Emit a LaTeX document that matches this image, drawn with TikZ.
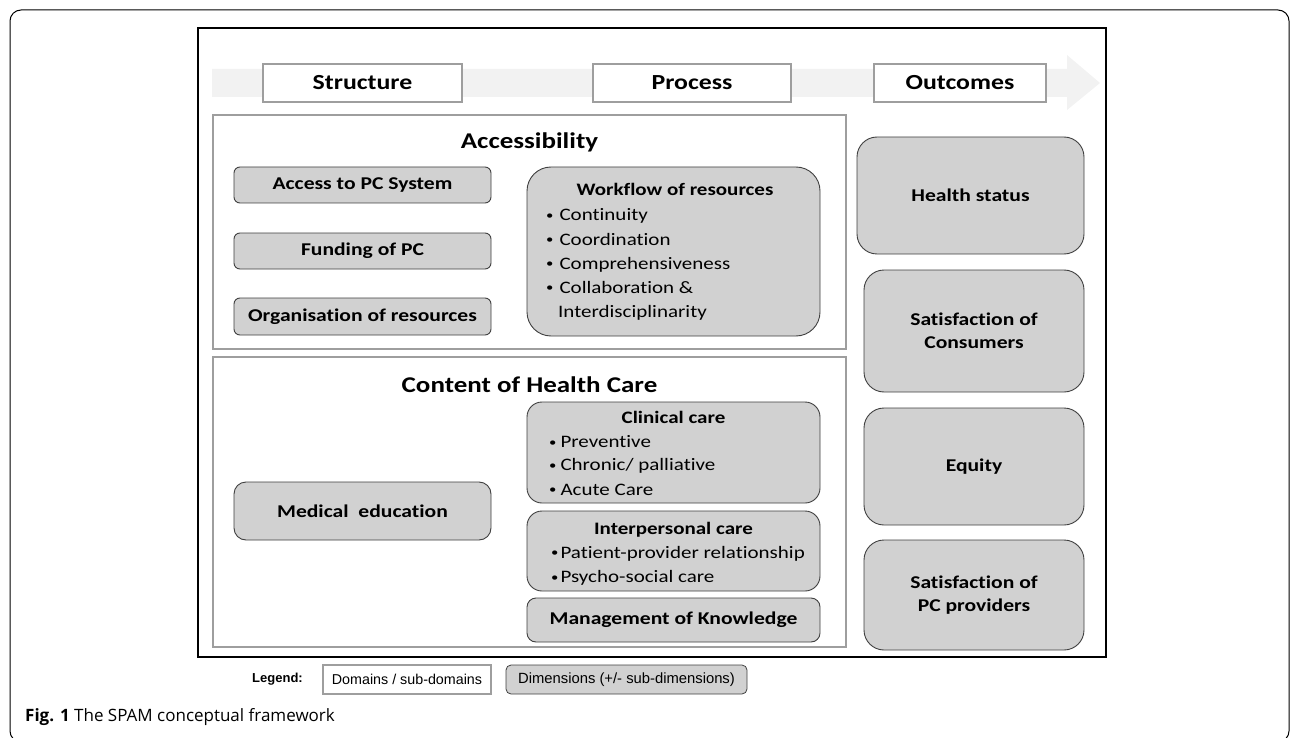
\documentclass[tikz,border=0pt]{standalone}
\usepackage{fontspec}
\usepackage{graphicx}
\setmainfont{Carlito}[FakeStretch=1.2, Ligatures=CommonOff]
\newfontfamily\legfont{Liberation Sans}
\newfontfamily\capfont{Open Sans}
\newcommand{\bu}{\raisebox{0.15ex}{\scalebox{0.7}{\textbullet}}}
\definecolor{dimfill}{gray}{0.82}
\definecolor{domline}{gray}{0.62}
\definecolor{arrowfill}{gray}{0.95}
\definecolor{dimline}{gray}{0.25}
\tikzset{
  dimbox/.style={draw=dimline, fill=dimfill, line width=0.9pt, rounded corners=#1, inner sep=0pt, align=center, font=\bfseries\fontsize{18}{23}\selectfont},
  dombox/.style={draw=domline, fill=white, line width=2pt, inner sep=0pt},
  hdrbox/.style={draw=domline, fill=white, line width=2pt, inner sep=0pt, font=\bfseries\fontsize{21.5}{24}\selectfont},
  sectitle/.style={font=\bfseries\fontsize{22.5}{26}\selectfont, inner sep=0pt},
  bul/.style={anchor=base west, inner sep=0pt, font=\fontsize{17.5}{22}\selectfont},
  subtitle/.style={inner sep=0pt, anchor=base, font=\bfseries\fontsize{17.5}{22}\selectfont},
}
\begin{document}
\begin{tikzpicture}[x=1pt,y=-1pt]
\useasboundingbox (0,0) rectangle (1290,738);
% outer caption frame
\draw[line width=1pt, rounded corners=11pt] (10,10) rectangle (1289,742);
% inner frame
\node[draw=black, line width=2.6pt, inner sep=0pt, minimum width=908pt, minimum height=629pt] (frame) at (652,342.5) {};
% arrow band
\fill[arrowfill] (212,69) -- (1067,69) -- (1067,55) -- (1100,83) -- (1067,110) -- (1067,97) -- (212,97) -- cycle;
% headers
\node[hdrbox, minimum width=199pt, minimum height=38pt] (structure) at (362.5,83) {Structure};
\node[hdrbox, minimum width=198pt, minimum height=38pt] (process) at (692,83) {Process};
\node[hdrbox, minimum width=172pt, minimum height=38pt] (outcomes) at (960,83) {Outcomes};
% domains
\node[dombox, minimum width=633pt, minimum height=234pt] (access) at (529.5,232) {};
\node[sectitle] (accesstitle) at (529.5,142) {Accessibility};
\node[dombox, minimum width=633pt, minimum height=290pt] (content) at (529.5,502) {};
\node[sectitle] (contenttitle) at (529.5,385) {Content of Health Care};
% accessibility dimensions
\node[dimbox=6pt, minimum width=257pt, minimum height=36pt] (pcsys) at (362.5,185) {Access to PC System};
\node[dimbox=6pt, minimum width=257pt, minimum height=36pt] (funding) at (362.5,251) {Funding of PC};
\node[dimbox=6pt, minimum width=257pt, minimum height=37pt] (organ) at (362.5,316.5) {Organisation of resources};
\node[dimbox=24pt, minimum width=293pt, minimum height=169pt] (workflow) at (673.5,251.5) {};
\node[subtitle] (wftitle) at (675,196) {Workflow of resources};
\node[bul] (wf1) at (546,221) {\bu\hspace{6pt}Continuity};
\node[bul] (wf2) at (546,245) {\bu\hspace{6pt}Coordination};
\node[bul] (wf3) at (546,269) {\bu\hspace{6pt}Comprehensiveness};
\node[bul] (wf4) at (546,293) {\bu\hspace{6pt}Collaboration \&};
\node[bul] (wf5) at (558,317) {Interdisciplinarity};
% content dimensions
\node[dimbox=12pt, minimum width=257pt, minimum height=58pt] (medical) at (362.5,511) {Medical\ \ education};
\node[dimbox=15pt, minimum width=293pt, minimum height=101pt] (clinical) at (673.5,452.5) {};
\node[subtitle] (cltitle) at (673.5,423) {Clinical care};
\node[bul] (cl1) at (549,447.5) {\bu\hspace{4pt}Preventive};
\node[bul] (cl2) at (549,470.5) {\bu\hspace{4pt}Chronic/ palliative};
\node[bul] (cl3) at (549,495) {\bu\hspace{4pt}Acute Care};
\node[dimbox=15pt, minimum width=293pt, minimum height=80pt] (interp) at (673.5,551) {};
\node[subtitle] (iptitle) at (673.5,534) {Interpersonal care};
\node[bul] (ip1) at (551,558) {\bu\hspace{2pt}Patient-provider relationship};
\node[bul] (ip2) at (551,582.5) {\bu\hspace{2pt}Psycho-social care};
\node[dimbox=9pt, minimum width=293pt, minimum height=44pt] (mgmt) at (673.5,620) {Management of Knowledge};
% outcomes
\node[dimbox=20pt, minimum width=227pt, minimum height=117pt] (health) at (970.5,195.5) {Health status};
\node[dimbox=20pt, minimum width=220pt, minimum height=122pt] (consumers) at (974,331) {Satisfaction of\\Consumers};
\node[dimbox=20pt, minimum width=220pt, minimum height=117pt] (equity) at (974,466.5) {Equity};
\node[dimbox=20pt, minimum width=220pt, minimum height=110pt] (providers) at (974,595) {Satisfaction of\\PC providers};
% legend
\node[inner sep=0pt, font=\legfont\bfseries\fontsize{13}{15}\selectfont] (legend) at (277.5,679) {Legend:};
\node[draw=domline, line width=1.5pt, fill=white, inner sep=0pt, minimum width=168pt, minimum height=29pt, font=\legfont\fontsize{14.3}{16}\selectfont] (legdom) at (407,679.5) {Domains / sub-domains};
\node[draw=dimline, line width=0.8pt, fill=dimfill, rounded corners=5pt, inner sep=0pt, minimum width=241pt, minimum height=29pt, font=\legfont\fontsize{14.8}{16}\selectfont] (legdim) at (626.5,679.5) {Dimensions (+/- sub-dimensions)};
% caption
\node[anchor=west, inner sep=0pt, font=\capfont\fontsize{17}{19}\selectfont] (caption) at (25,717) {{\bfseries Fig. 1} The SPAM conceptual framework};
\end{tikzpicture}
\end{document}
